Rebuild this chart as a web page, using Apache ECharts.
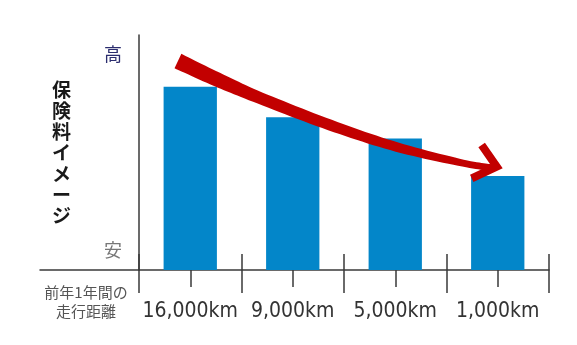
<!DOCTYPE html>
<html><head><meta charset="utf-8">
<script src="https://cdn.jsdelivr.net/npm/echarts@6/dist/echarts.min.js"></script>
<style>html,body{margin:0;padding:0;background:#fff}#c{width:577px;height:345px}</style>
</head><body><div id="c"></div>
<script>
const categories = ['16,000km', '9,000km', '5,000km', '1,000km'];
const values = [78, 65, 56, 40];
const levelLabels = ['安', '', '', '', '', '高'];
const yName = '保険料イメージ';
const xName = '前年1年間の\n走行距離';
// trend arrow path in axis units (x: category position 0..4, y: 0..100)
const arrowX = [0.380, 0.761, 1.180, 1.863, 2.517, 3.161, 3.434];
const arrowY = [88.9, 81.1, 73.2, 61.7, 52.3, 45.5, 43.6];
const arrowHeadX = [3.343, 3.490, 3.246];
const arrowHeadY = [53.2, 44.0, 39.0];

const RED = '#c20000';
const AX = '#3a3a3a';
const numFont = '"DejaVu Sans Condensed", "Liberation Sans Narrow", sans-serif';
const jpFont = '"Noto Sans CJK JP", sans-serif';

const chart = echarts.init(document.getElementById('c'), null, {renderer: 'canvas'});

function renderArrow(params, api) {
  if (params.dataIndex !== 0) return;
  const pts = arrowX.map((x, i) => api.coord([x, arrowY[i]]));
  const widths = [16, 14.5, 12, 11, 9.5, 7, 6.5];
  const n = pts.length, steps = 12;
  const samp = [], sw = [];
  for (let i = 0; i < n - 1; i++) {
    const p0 = pts[Math.max(i - 1, 0)], p1 = pts[i], p2 = pts[i + 1], p3 = pts[Math.min(i + 2, n - 1)];
    for (let s = 0; s < steps; s++) {
      const t = s / steps, t2 = t * t, t3 = t2 * t;
      const f = k => 0.5 * ((2 * p1[k]) + (-p0[k] + p2[k]) * t + (2 * p0[k] - 5 * p1[k] + 4 * p2[k] - p3[k]) * t2 + (-p0[k] + 3 * p1[k] - 3 * p2[k] + p3[k]) * t3);
      samp.push([f(0), f(1)]);
      sw.push(widths[i] + (widths[i + 1] - widths[i]) * t);
    }
  }
  samp.push(pts[n - 1]); sw.push(widths[n - 1]);
  const left = [], right = [];
  for (let i = 0; i < samp.length; i++) {
    const a = samp[Math.max(i - 1, 0)], b = samp[Math.min(i + 1, samp.length - 1)];
    let dx = b[0] - a[0], dy = b[1] - a[1];
    const len = Math.hypot(dx, dy) || 1;
    const nx = -dy / len, ny = dx / len, h = sw[i] / 2;
    left.push([samp[i][0] + nx * h, samp[i][1] + ny * h]);
    right.push([samp[i][0] - nx * h, samp[i][1] - ny * h]);
  }
  const head = arrowHeadX.map((x, i) => api.coord([x, arrowHeadY[i]]));
  return {
    type: 'group',
    children: [
      {type: 'polygon', shape: {points: left.concat(right.reverse())}, style: {fill: RED}},
      {type: 'polyline', shape: {points: head}, style: {stroke: RED, lineWidth: 8, fill: null, lineJoin: 'miter'}}
    ]
  };
}

chart.setOption({
  animation: false,
  grid: [
    {left: 139, right: 28, top: 35, bottom: 75},
    {left: 40, width: 99, top: 35, bottom: 75}
  ],
  xAxis: [
    {
      type: 'category', gridIndex: 0, position: 'bottom', data: categories,
      axisLine: {show: true, lineStyle: {color: AX, width: 1.5}},
      axisTick: {show: true, alignWithLabel: true, length: 17, lineStyle: {color: AX, width: 1.5}},
      axisLabel: {interval: 0, fontSize: 21, color: '#333', fontFamily: numFont, margin: 31}
    },
    {
      type: 'value', gridIndex: 0, position: 'bottom', min: 0, max: 4, interval: 1,
      axisLine: {show: false},
      axisTick: {show: true, length: 23, lineStyle: {color: AX, width: 1.5}},
      axisLabel: {show: false}, splitLine: {show: false}
    },
    {
      type: 'value', gridIndex: 0, position: 'bottom', min: 0, max: 4, interval: 1,
      axisLine: {show: false},
      axisTick: {show: true, inside: true, length: 16, lineStyle: {color: AX, width: 1.5}},
      axisLabel: {show: false}, splitLine: {show: false}
    },
    {
      type: 'value', gridIndex: 1, position: 'bottom', min: 0, max: 1,
      axisLine: {show: true, lineStyle: {color: AX, width: 1.5}},
      axisTick: {show: false}, axisLabel: {show: false}, splitLine: {show: false},
      name: xName, nameLocation: 'middle', nameGap: 13,
      nameTextStyle: {fontSize: 15, lineHeight: 19, color: '#555', fontFamily: jpFont, padding: [0, 7, 0, 0]}
    }
  ],
  yAxis: [
    {
      type: 'value', gridIndex: 0, position: 'left', min: 0, max: 100,
      axisLine: {show: true, lineStyle: {color: AX, width: 1.5}},
      axisTick: {show: false}, axisLabel: {show: false}, splitLine: {show: false},
      name: yName.split('').join('\n'), nameLocation: 'middle', nameGap: 68, nameRotate: 0,
      nameTextStyle: {fontSize: 19, fontWeight: 'bold', lineHeight: 21, color: '#1a1a1a', fontFamily: jpFont}
    },
    {
      type: 'category', gridIndex: 0, position: 'left', data: levelLabels,
      axisLine: {show: false}, axisTick: {show: false}, splitLine: {show: false},
      axisLabel: {
        interval: 0, margin: 17, fontSize: 18, fontFamily: jpFont,
        formatter: v => v === '高' ? '{h|高}' : (v === '安' ? '{l|安}' : ''),
        rich: {h: {color: '#2b2d6e', fontSize: 18, fontFamily: jpFont}, l: {color: '#777', fontSize: 18, fontFamily: jpFont}}
      }
    },
    {
      type: 'value', gridIndex: 1, min: 0, max: 1, show: false
    }
  ],
  series: [
    {
      type: 'bar', xAxisIndex: 0, yAxisIndex: 0, data: values, barWidth: '52%',
      itemStyle: {color: '#0386c9'}, silent: true
    },
    {
      type: 'custom', xAxisIndex: 1, yAxisIndex: 0, clip: false, silent: true, z: 5,
      data: arrowX.map((x, i) => [x, arrowY[i]]),
      renderItem: renderArrow
    }
  ]
});
</script>
</body></html>
